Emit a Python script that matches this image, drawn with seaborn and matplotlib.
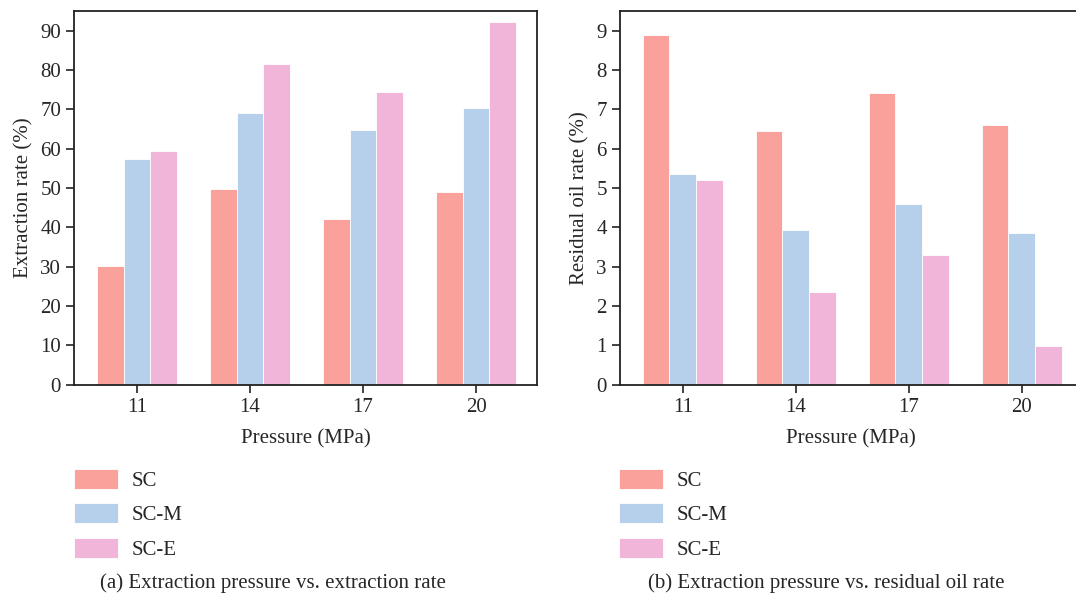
import matplotlib
matplotlib.use("Agg")
import matplotlib.pyplot as plt
import seaborn as sns
import pandas as pd

pressures = ["11", "14", "17", "20"]
series = ["SC", "SC-M", "SC-E"]
extraction_sc = [30.2, 49.7, 42.1, 49.0]
extraction_scm = [57.5, 69.0, 64.7, 70.4]
extraction_sce = [59.5, 81.6, 74.5, 92.3]
residual_sc = [8.88, 6.45, 7.42, 6.60]
residual_scm = [5.37, 3.93, 4.60, 3.85]
residual_sce = [5.20, 2.35, 3.30, 0.98]
colors = ["#F9A19A", "#B6CFEB", "#F1B5DA"]

sns.set_theme(style="ticks")
plt.rcParams["font.family"] = ["Liberation Serif", "DejaVu Serif"]
FS = 15

def make_df(a, b, c):
    rows = []
    for name, vals in zip(series, [a, b, c]):
        for p, v in zip(pressures, vals):
            rows.append({"Pressure": p, "Series": name, "Value": v})
    return pd.DataFrame(rows)

df1 = make_df(extraction_sc, extraction_scm, extraction_sce)
df2 = make_df(residual_sc, residual_scm, residual_sce)

fig = plt.figure(figsize=(10.76, 6.01), dpi=100)
W, H = 1076, 601
bottom, top = 384.7, 10.7
ax1 = fig.add_axes([74.3 / W, 1 - bottom / H, (536.7 - 74.3) / W, (bottom - top) / H])
ax2 = fig.add_axes([620 / W, 1 - bottom / H, (536.7 - 74.3) / W, (bottom - top) / H])

for ax, df, ylabel, ylim, yticks in [
    (ax1, df1, "Extraction rate (%)", (0, 95.1), range(0, 91, 10)),
    (ax2, df2, "Residual oil rate (%)", (0, 9.51), range(0, 10)),
]:
    sns.barplot(data=df, x="Pressure", y="Value", hue="Series", palette=colors,
                width=0.708, ax=ax, saturation=1, edgecolor="white", linewidth=0.6)
    ax.set_ylim(*ylim)
    ax.set_yticks(list(yticks))
    ax.set_xlim(-0.555, 3.537)
    ax.set_xlabel("Pressure (MPa)", fontsize=FS, labelpad=9)
    ax.set_ylabel(ylabel, fontsize=FS, labelpad=5)
    ax.tick_params(axis="both", labelsize=FS, direction="out", length=5.5, width=1.2,
                   color="#222222", pad=4)
    for s in ax.spines.values():
        s.set_linewidth(1.3)
        s.set_color("#222222")
    ax.get_legend().remove()

handles, labels = ax1.get_legend_handles_labels()
for x0 in [74 / W, 619 / W]:
    fig.legend(handles, labels, loc="upper left", bbox_to_anchor=(x0, 1 - 469 / H),
               frameon=False, fontsize=FS, handlelength=2.1, handleheight=1.1,
               handletextpad=0.68, labelspacing=0.59, borderpad=0, borderaxespad=0)

fig.text(273 / W, 1 - 583 / H, "(a) Extraction pressure vs. extraction rate",
         ha="center", va="center", fontsize=FS)
fig.text(826 / W, 1 - 583 / H, "(b) Extraction pressure vs. residual oil rate",
         ha="center", va="center", fontsize=FS)

fig.savefig("out.png", dpi=100)
